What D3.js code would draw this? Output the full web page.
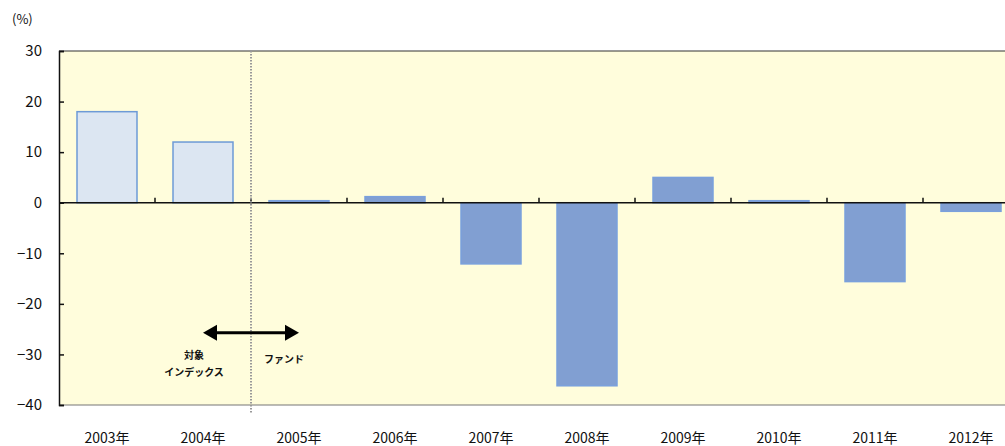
<!DOCTYPE html>
<html>
<head>
<meta charset="utf-8">
<script src="https://cdn.jsdelivr.net/npm/d3@7"></script>
<style>
body { margin:0; background:#fff; }
svg text { font-family: "Noto Sans CJK JP", "DejaVu Sans", sans-serif; }
</style>
</head>
<body>
<div id="chart"></div>
<script>
// data
var years = ["2003年","2004年","2005年","2006年","2007年","2008年","2009年","2010年","2011年","2012年"];
var returns = [18.0, 12.0, 0.4, 1.2, -12.1, -36.2, 5.0, 0.4, -15.6, -1.7];
var indexYears = 2; // first two years are the index, the rest the fund
var yTicks = [30, 20, 10, 0, -10, -20, -30, -40];

var W = 1005, H = 446;
var plotLeft = 59, plotTop = 51, plotBottom = 405, bandW = 96;

var svg = d3.select("#chart").append("svg").attr("width", W).attr("height", H);

var x = d3.scaleBand().domain(years).range([plotLeft, plotLeft + bandW * years.length]).paddingInner(0.375).paddingOuter(0.1875);
var y = d3.scaleLinear().domain([-40, 30]).range([plotBottom, plotTop]);

// plot background
svg.append("rect").attr("x", plotLeft).attr("y", plotTop).attr("width", W - plotLeft).attr("height", plotBottom - plotTop)
  .attr("fill", "#fffddc");

// bars
svg.selectAll("rect.bar").data(returns).enter().append("rect")
  .attr("class", "bar")
  .attr("x", function(d, i) { return x(years[i]); })
  .attr("width", x.bandwidth())
  .attr("y", function(d) { return y(Math.max(0, d)); })
  .attr("height", function(d) { return Math.abs(y(d) - y(0)); })
  .attr("fill", function(d, i) { return i < indexYears ? "#dce6f2" : "#819fd2"; })
  .attr("stroke", function(d, i) { return i < indexYears ? "#6d9ad6" : "#7aa0dc"; })
  .attr("stroke-width", 1.5);

// frame (top, bottom)
svg.append("line").attr("x1", plotLeft).attr("x2", W).attr("y1", plotTop).attr("y2", plotTop).attr("stroke", "#333").attr("stroke-width", 1.2);
svg.append("line").attr("x1", plotLeft).attr("x2", W).attr("y1", plotBottom).attr("y2", plotBottom).attr("stroke", "#777").attr("stroke-width", 1.2);

// y axis
var yAxis = d3.axisLeft(y).tickValues(yTicks).tickSize(-5).tickPadding(16)
  .tickFormat(function(d) { return d < 0 ? "\u2212" + Math.abs(d) : d; });
var gy = svg.append("g").attr("transform", "translate(" + plotLeft + ",0)").call(yAxis);
gy.select(".domain").attr("stroke", "#111").attr("stroke-width", 1.5);
gy.selectAll(".tick line").attr("stroke", "#111").attr("stroke-width", 1.5);
gy.selectAll("text").attr("font-size", 15).attr("fill", "#111").attr("dx", "-1");

svg.append("text").attr("x", 12).attr("y", 24).attr("font-size", 13).attr("fill", "#111").text("(%)");

// zero line with category ticks
svg.append("line").attr("x1", plotLeft).attr("x2", W).attr("y1", y(0)).attr("y2", y(0)).attr("stroke", "#111").attr("stroke-width", 1.5);
svg.selectAll("line.ctick").data(years.slice(1)).enter().append("line")
  .attr("class", "ctick")
  .attr("x1", function(d) { return x(d) - x.step() * x.paddingInner() / 2; })
  .attr("x2", function(d) { return x(d) - x.step() * x.paddingInner() / 2; })
  .attr("y1", y(0)).attr("y2", y(0) - 5)
  .attr("stroke", "#111").attr("stroke-width", 1.5);

// category labels
svg.selectAll("text.cat").data(years).enter().append("text")
  .attr("class", "cat")
  .attr("x", function(d) { return x(d) + x.bandwidth() / 2; })
  .attr("y", 443)
  .attr("text-anchor", "middle")
  .attr("font-size", 14).attr("fill", "#111")
  .text(function(d) { return d; });

// divider between index and fund
var divX = x(years[indexYears]) - x.step() * x.paddingInner() / 2;
svg.append("line").attr("x1", divX).attr("x2", divX).attr("y1", plotTop).attr("y2", plotBottom + 9)
  .attr("stroke", "#999").attr("stroke-width", 2).attr("stroke-dasharray", "1.5,1.5");

// arrow
var ay = y(-25.7);
svg.append("line").attr("x1", divX - 38).attr("x2", divX + 38).attr("y1", ay).attr("y2", ay)
  .attr("stroke", "#000").attr("stroke-width", 3);
svg.append("path").attr("d", "M" + (divX - 48) + "," + ay + "l14,-8v16z").attr("fill", "#000");
svg.append("path").attr("d", "M" + (divX + 48) + "," + ay + "l-14,-8v16z").attr("fill", "#000");

svg.append("text").attr("x", divX - 57).attr("y", y(-31)).attr("text-anchor", "middle")
  .attr("font-size", 10).attr("font-weight", "bold").attr("fill", "#111").text("対象");
svg.append("text").attr("x", divX - 57).attr("y", y(-34.3)).attr("text-anchor", "middle")
  .attr("font-size", 10).attr("font-weight", "bold").attr("fill", "#111").text("インデックス");
svg.append("text").attr("x", divX + 33).attr("y", y(-31.7)).attr("text-anchor", "middle")
  .attr("font-size", 10).attr("font-weight", "bold").attr("fill", "#111").text("ファンド");
</script>
</body>
</html>
